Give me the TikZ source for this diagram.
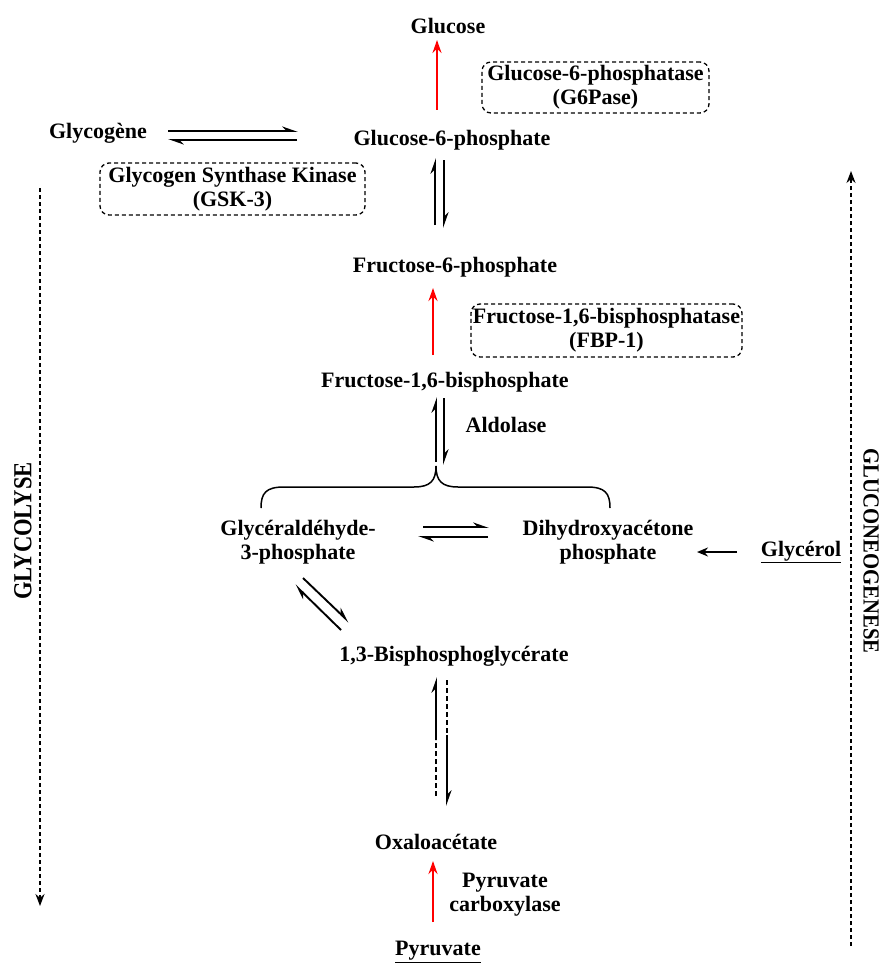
\documentclass[tikz,border=0pt]{standalone}
\usepackage{fontspec}
\setmainfont{Liberation Serif}
\usetikzlibrary{arrows.meta}
\begin{document}
\begin{tikzpicture}[x=1pt,y=-1pt,
  lbl/.style={font=\fontsize{22}{24}\selectfont\bfseries, inner sep=0pt, align=center},
  enz/.style={lbl, draw, dash pattern=on 4pt off 3pt, rounded corners=9pt, line width=1.3pt},
  eqarr/.style={line width=1.9pt, -{Stealth[harpoon,length=13pt,width=9pt]}},
  dsh/.style={line width=1.9pt, dash pattern=on 5pt off 3pt},
  redarr/.style={red, line width=2.2pt, -{Stealth[length=13pt,width=9pt]}},
  longarr/.style={line width=1.8pt, dash pattern=on 4pt off 3pt, -{Stealth[length=12pt,width=9pt]}},
  side/.style={font=\fontsize{26}{28}\selectfont\bfseries, inner sep=0pt},
  sidesm/.style={font=\fontsize{23}{25}\selectfont\bfseries, inner sep=0pt}
]
\useasboundingbox (0,0) rectangle (882,963);

% metabolites
\node[lbl] (glc) at (448,26) {Glucose};
\node[lbl] (g6p) at (452,140) {Glucose-6-phosphate};
\node[lbl] (glyg) at (98,133) {Glycogène};
\node[lbl] (f6p) at (455,267) {Fructose-6-phosphate};
\node[lbl] (f16) at (445,382) {Fructose-1,6-bisphosphate};
\node[lbl] (ald) at (506,425) {Aldolase};
\node[lbl] (g3p) at (298,542) {Glycéraldéhyde-\\3-phosphate};
\node[lbl] (dhap) at (608,542) {Dihydroxyacétone\\phosphate};
\node[lbl] (glyc) at (801,552) {\underline{Glycérol}};
\node[lbl] (bpg) at (454,656) {1,3-Bisphosphoglycérate};
\node[lbl] (oaa) at (436,842) {Oxaloacétate};
\node[lbl] (pc) at (505,895) {Pyruvate\\carboxylase};
\node[lbl] (pyr) at (438,952) {\underline{Pyruvate}};

% enzymes
\node[enz, minimum width=227pt, minimum height=51pt] (g6pase) at (595.5,87.5) {Glucose-6-phosphatase\\(G6Pase)};
\node[enz, minimum width=265pt, minimum height=52pt] (gsk) at (232.5,189) {Glycogen Synthase Kinase\\(GSK-3)};
\node[enz, minimum width=271pt, minimum height=53pt] (fbp) at (606.5,330.5) {Fructose-1,6-bisphosphatase\\(FBP-1)};

% side labels
\node[side, rotate=90] (glyco) at (23,531) {\scalebox{0.87}[1]{GLYCOLYSE}};
\node[sidesm, rotate=-90] (gneo) at (871,551) {\scalebox{0.9}[1]{GLUCONEOGENESE}};

% red irreversible arrows
\coordinate (r1a) at (437,110); \coordinate (r1b) at (437,40);
\draw[redarr] (r1a) -- (r1b);
\coordinate (r2a) at (433,355); \coordinate (r2b) at (433,288);
\draw[redarr] (r2a) -- (r2b);
\coordinate (r3a) at (433,922); \coordinate (r3b) at (433,861);
\draw[redarr] (r3a) -- (r3b);

% glycogen <-> G6P
\coordinate (gy1) at (168,131); \coordinate (gy2) at (298,131);
\draw[eqarr] (gy1) -- (gy2);
\coordinate (gy3) at (297,140); \coordinate (gy4) at (168,140);
\draw[eqarr] (gy3) -- (gy4);

% G6P <-> F6P
\coordinate (v1a) at (435,225); \coordinate (v1b) at (435,158);
\draw[eqarr] (v1a) -- (v1b);
\coordinate (v2a) at (444,160); \coordinate (v2b) at (444,228);
\draw[eqarr] (v2a) -- (v2b);

% F16BP <-> trioses
\coordinate (w1a) at (436,462); \coordinate (w1b) at (436,397);
\draw[eqarr] (w1a) -- (w1b);
\coordinate (w2a) at (444,398); \coordinate (w2b) at (444,465);
\draw[eqarr] (w2a) -- (w2b);

% brace
\coordinate (brL) at (261,508); \coordinate (brT) at (436,466); \coordinate (brR) at (610,508);
\draw[line width=1.5pt] (brL) .. controls (261,493) and (266,487) .. (284,487) -- (414,487)
  .. controls (430,487) and (436,481) .. (brT)
  .. controls (436,481) and (442,487) .. (458,487) -- (587,487)
  .. controls (605,487) and (610,493) .. (brR);

% G3P <-> DHAP
\coordinate (t1a) at (423,527); \coordinate (t1b) at (489,527);
\draw[eqarr] (t1a) -- (t1b);
\coordinate (t2a) at (488,537); \coordinate (t2b) at (418,537);
\draw[eqarr] (t2a) -- (t2b);

% glycerol -> DHAP
\coordinate (gl1) at (737,552); \coordinate (gl2) at (697,552);
\draw[line width=1.9pt, -{Stealth[length=11pt,width=9pt]}] (gl1) -- (gl2);

% G3P <-> 1,3-BPG
\coordinate (d1a) at (303,578); \coordinate (d1b) at (349,622);
\draw[eqarr] (d1a) -- (d1b);
\coordinate (d2a) at (341,630); \coordinate (d2b) at (295,585);
\draw[eqarr] (d2a) -- (d2b);

% 1,3-BPG <-> OAA
\coordinate (b1) at (436,796); \coordinate (b2) at (436,740); \coordinate (b3) at (436,677);
\draw[dsh] (b1) -- (b2);
\draw[eqarr] (b2) -- (b3);
\coordinate (c1) at (447,680); \coordinate (c2) at (447,735); \coordinate (c3) at (447,806);
\draw[dsh] (c1) -- (c2);
\draw[eqarr] (c2) -- (c3);

% long pathway arrows
\coordinate (la1) at (40,188); \coordinate (la2) at (40,906);
\draw[longarr] (la1) -- (la2);
\coordinate (lb1) at (851,946); \coordinate (lb2) at (851,171);
\draw[longarr] (lb1) -- (lb2);
\end{tikzpicture}
\end{document}
